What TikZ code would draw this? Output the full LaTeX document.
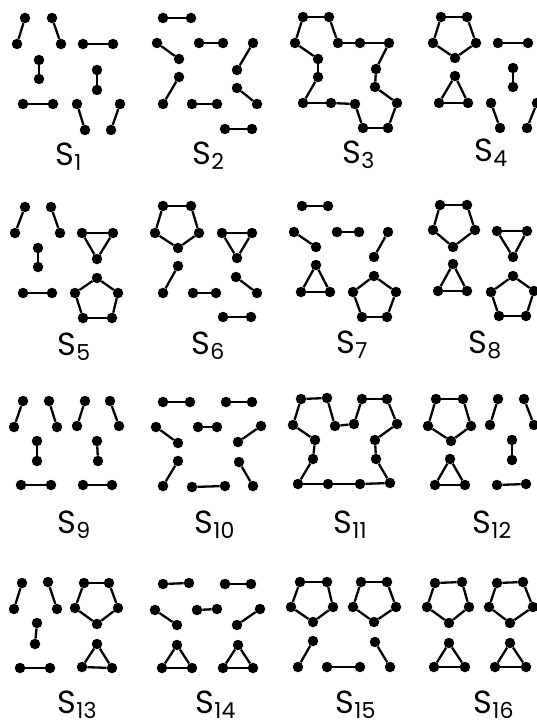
\documentclass[tikz,border=0pt]{standalone}
\usepackage{fontspec}
\setmainfont{Poppins}
\tikzset{
  dot/.style={circle,fill=black,draw=none,inner sep=0pt,minimum size=10.5pt},
  edge/.style={line width=2.3pt,black},
  lab/.style={anchor=base west,inner sep=0pt,font=\fontsize{32}{32}\selectfont}
}
\newcommand\seg[3]{\node[dot] (#1a) at (#2) {}; \node[dot] (#1b) at (#3) {}; \draw[edge] (#1a) -- (#1b);}
\newcommand\poly[3]{%
  \foreach \p [count=\i] in {#3} {\node[dot] (#1\i) at (\p) {};}
  \foreach \i [remember=\i as \j (initially #2)] in {1,...,#2} {\draw[edge] (#1\j) -- (#1\i);}
}
\newcommand\lbl[1]{S\kern0.5pt\raisebox{-5pt}{\fontsize{22}{22}\selectfont #1}}
\begin{document}
\begin{tikzpicture}[x=1pt,y=-1pt]
\useasboundingbox (0,0) rectangle (537,727);
% S1
\seg{sAa}{25,18}{17,44}
\seg{sAb}{52,18}{61,44}
\seg{sAc}{83,44}{113,44}
\seg{sAd}{39,60}{39,79}
\seg{sAe}{97,70}{97,90}
\seg{sAf}{23,104}{53,104}
\seg{sAg}{77,104}{85,130}
\seg{sAh}{120,104}{111,130}
\node[lab] (l1) at (55,166) {\lbl{1}};
% S2
\seg{sBa}{163,18}{191,18}
\seg{sBb}{157,43}{179,59}
\seg{sBc}{199,43}{223,43}
\seg{sBd}{253,43}{237,70}
\seg{sBe}{179,77}{163,104}
\seg{sBf}{192,104}{217,104}
\seg{sBg}{237,88}{257,104}
\seg{sBh}{225,129}{252,129}
\node[lab] (l2) at (192,165) {\lbl{2}};
% S3
\poly{sCp}{16}{{303,17},{329,17},{338,43},{360,43},{389,43},{376,69},{375,87},{397,103},{388,128},{363,128},{355,104},{331,103},{303,103},{318,77},{318,59},{295,43}}
\node[lab] (l3) at (342,164) {\lbl{3}};
% S4
\poly{sDp}{5}{{441,17},{467,17},{476,43},{455,58},{433,43}}
\seg{sDa}{498,43}{528,43}
\seg{sDb}{513,68}{513,87}
\poly{sDt}{3}{{455,76},{468,103},{439,103}}
\seg{sDc}{491,103}{500,128}
\seg{sDd}{537,103}{527,128}
\node[lab] (l4) at (474,162) {\lbl{4}};
% S5
\seg{sEa}{25,207}{15,233}
\seg{sEb}{51,207}{60,233}
\seg{sEc}{38,248}{38,267}
\seg{sEd}{23,293}{52,293}
\poly{sEt}{3}{{82,233},{113,233},{97,259}}
\poly{sEp}{5}{{97,278},{118,293},{112,318},{83,318},{75,293}}
\node[lab] (l5) at (57,355) {\lbl{5}};
% S6
\poly{sFp}{5}{{163,206},{191,206},{199,233},{178,248},{155,233}}
\poly{sFt}{3}{{222,233},{252,233},{237,258}}
\seg{sFa}{178,266}{163,293}
\seg{sFb}{193,293}{216,293}
\seg{sFc}{236,277}{257,293}
\seg{sFd}{223,317}{251,317}
\node[lab] (l6) at (191,354) {\lbl{6}};
% S7
\seg{sGa}{302,206}{328,206}
\seg{sGb}{294,232}{316,247}
\seg{sGc}{337,232}{359,232}
\seg{sGd}{388,232}{374,257}
\poly{sGt}{3}{{316,265},{330,292},{301,292}}
\poly{sGp}{5}{{374,276},{396,292},{387,317},{362,317},{353,292}}
\node[lab] (l7) at (336,353) {\lbl{7}};
% S8
\poly{sHp}{5}{{440,205},{467,205},{475,230},{453,247},{433,230}}
\poly{sHt}{3}{{497,231},{527,231},{513,257}}
\poly{sHu}{3}{{453,264},{467,291},{438,291}}
\poly{sHq}{5}{{513,276},{534,291},{526,316},{499,316},{491,292}}
\node[lab] (l8) at (468,353) {\lbl{8}};
% S9
\seg{sIa}{23,401}{14,427}
\seg{sIb}{49,401}{57,427}
\seg{sIc}{85,401}{77,426}
\seg{sId}{110,401}{119,426}
\seg{sIe}{37,441}{37,461}
\seg{sIf}{97,441}{98,461}
\seg{sIg}{21,485}{51,485}
\seg{sIh}{83,485}{112,485}
\node[lab] (l9) at (57,533) {\lbl{9}};
% S10
\seg{sJa}{163,402}{190,402}
\seg{sJb}{226,402}{252,402}
\seg{sJc}{156,427}{178,443}
\seg{sJd}{198,427}{217,427}
\seg{sJe}{261,426}{238,442}
\seg{sJf}{178,461}{163,486}
\seg{sJg}{192,487}{225,486}
\seg{sJh}{239,462}{253,486}
\node[lab] (l10) at (194,533) {\lbl{10}};
% S11
\poly{sKp}{16}{{301,399},{327,398},{335,426},{354,424},{362,399},{387,399},{397,424},{375,440},{376,459},{390,483},{360,484},{328,484},{298,484},{313,459},{315,440},{293,425}}
\node[lab] (l11) at (333,533) {\lbl{11}};
% S12
\poly{sLp}{5}{{436,399},{463,399},{471,426},{451,441},{428,426}}
\poly{sLt}{3}{{450,459},{465,485},{435,485}}
\seg{sLa}{498,399}{490,425}
\seg{sLb}{524,399}{534,425}
\seg{sLc}{512,440}{512,460}
\seg{sLd}{497,485}{526,484}
\node[lab] (l12) at (472,533) {\lbl{12}};
% S13
\seg{sMa}{22,583}{14,609}
\seg{sMb}{48,582}{57,609}
\seg{sMc}{37,623}{35,644}
\seg{sMd}{20,668}{50,668}
\poly{sMp}{5}{{84,583},{109,583},{118,608},{97,624},{75,608}}
\poly{sMt}{3}{{97,644},{112,668},{82,667}}
\node[lab] (l13) at (57,713) {\lbl{13}};
% S14
\seg{sNa}{163,584}{189,583}
\seg{sNb}{225,584}{251,584}
\seg{sNc}{155,610}{177,625}
\seg{sNd}{197,610}{217,609}
\seg{sNe}{260,609}{237,625}
\poly{sNt}{3}{{177,645},{192,668},{162,668}}
\poly{sNu}{3}{{238,645},{253,668},{223,668}}
\node[lab] (l14) at (195,713) {\lbl{14}};
% S15
\poly{sOp}{5}{{300,582},{327,582},{333,607},{313,622},{291,607}}
\poly{sOq}{5}{{361,582},{387,582},{396,607},{374,622},{353,607}}
\seg{sOa}{313,641}{298,667}
\seg{sOb}{327,667}{360,667}
\seg{sOc}{375,642}{390,667}
\node[lab] (l15) at (335,713) {\lbl{15}};
% S16
\poly{sPp}{5}{{435,583},{462,582},{469,607},{449,623},{427,607}}
\poly{sPq}{5}{{497,583},{523,582},{533,607},{510,623},{489,607}}
\poly{sPt}{3}{{449,643},{465,667},{434,667}}
\poly{sPu}{3}{{510,643},{526,667},{495,667}}
\node[lab] (l16) at (473,713) {\lbl{16}};
\end{tikzpicture}
\end{document}
